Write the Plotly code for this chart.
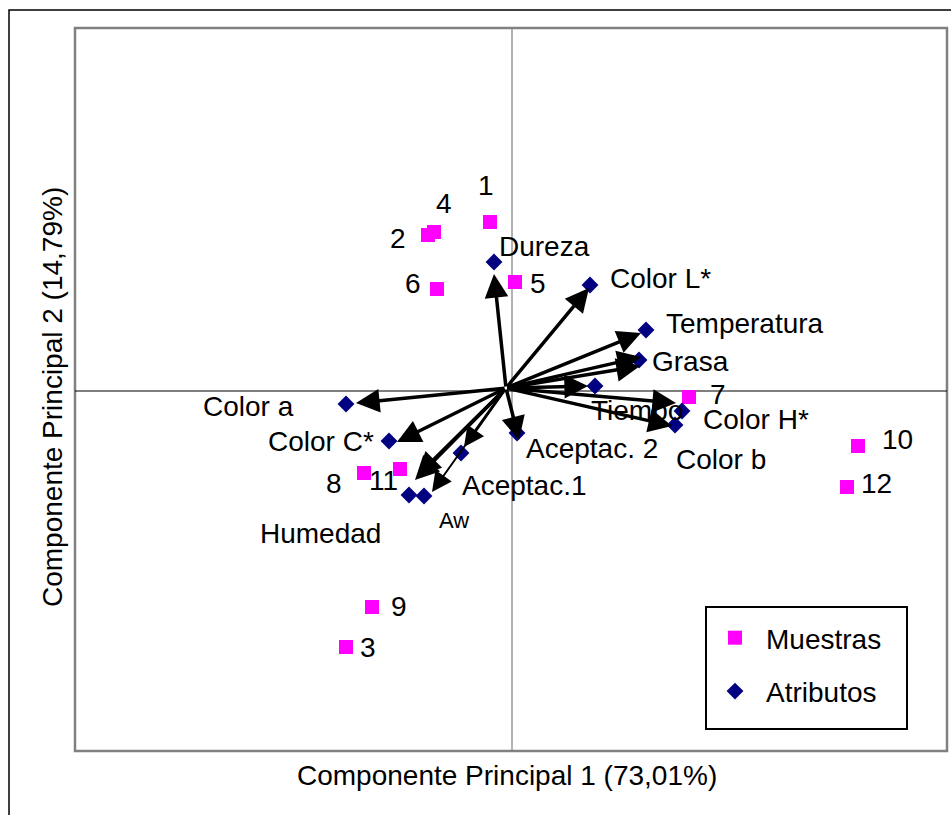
import plotly.graph_objects as go

# ---- Data (scores / loadings, arbitrary PCA units) ----
sample_labels = ["1", "2", "3", "4", "5", "6", "7", "8", "9", "10", "11", "12"]
sample_pc1 = [-0.22, -0.84, -1.66, -0.78, 0.03, -0.75, 1.77, -1.48, -1.40, 3.46, -1.12, 3.35]
sample_pc2 = [1.69, 1.56, -2.56, 1.59, 1.09, 1.02, -0.06, -0.82, -2.16, -0.55, -0.78, -0.96]
# label positions for sample numbers
sample_lab_x = [-0.26, -1.14, -1.44, -0.68, 0.26, -0.99, 2.06, -1.78, -1.13, 3.85, -1.29, 3.64]
sample_lab_y = [2.06, 1.53, -2.56, 1.88, 1.08, 1.08, -0.03, -0.92, -2.15, -0.48, -0.89, -0.92]

attr_labels = ["Dureza", "Color L*", "Temperatura", "Grasa", "Tiempo", "Color H*", "Color b",
               "Aceptac. 2", "Aceptac.1", "Aw", "Humedad", "Color C*", "Color a"]
attr_pc1 = [-0.18, 0.78, 1.34, 1.27, 0.83, 1.70, 1.63, 0.05, -0.51, -0.88, -1.03, -1.23, -1.66]
attr_pc2 = [1.29, 1.06, 0.61, 0.31, 0.05, -0.20, -0.34, -0.42, -0.62, -1.05, -1.04, -0.50, -0.13]
attr_lab_x = [0.32, 1.48, 2.33, 1.78, 1.25, 2.44, 2.09, 0.80, 0.12, -0.58, -1.92, -1.91, -2.64]
attr_lab_y = [1.45, 1.13, 0.68, 0.30, -0.19, -0.28, -0.68, -0.57, -0.94, -1.29, -1.42, -0.50, -0.15]
attr_lab_size = [28, 28, 28, 28, 28, 28, 28, 28, 28, 22, 28, 28, 28]

# loading arrows (tips)
arrow_x = [-0.18, 0.77, 1.29, 1.29, 1.28, 0.76, 1.64, 1.60, 0.07, -0.48, -0.80, -0.97, -0.95, -1.15, -1.56]
arrow_y = [1.17, 1.03, 0.58, 0.34, 0.25, 0.05, -0.12, -0.35, -0.49, -0.56, -1.01, -0.89, -0.85, -0.51, -0.12]
arrow_w = [3.5, 3.5, 3.5, 3.5, 3.5, 3.5, 3.5, 3.5, 3.5, 3, 2, 3.5, 3.5, 3.5, 3.5]
origin = (-0.06, 0.03)

FONT = "Liberation Sans, Arial, sans-serif"

PL, PT, PR, PB = 75, 28, 947, 751   # plot area in page pixels
W, H = 951, 815


def px2paper_x(px):
    return (px - PL) / (PR - PL)


def px2paper_y(py):
    return (PB - py) / (PB - PT)


fig = go.Figure()

fig.add_trace(go.Scatter(
    x=sample_pc1, y=sample_pc2, mode="markers", name="Muestras",
    marker=dict(symbol="square", size=14, color="#FF00FF"),
    legendgroup="a", hoverinfo="text", text=sample_labels))
fig.add_trace(go.Scatter(
    x=attr_pc1, y=attr_pc2, mode="markers", name="Atributos",
    marker=dict(symbol="diamond", size=13, color="#000080"),
    legendgroup="b", hoverinfo="text", text=attr_labels))

annotations = []
# labels first so that the arrows are drawn on top of them
for t, lx, ly in zip(sample_labels, sample_lab_x, sample_lab_y):
    annotations.append(dict(x=lx, y=ly, xref="x", yref="y", text=t, showarrow=False,
                            xanchor="center", yanchor="middle",
                            font=dict(family=FONT, size=28, color="black")))
for t, lx, ly, s in zip(attr_labels, attr_lab_x, attr_lab_y, attr_lab_size):
    annotations.append(dict(x=lx, y=ly, xref="x", yref="y", text=t, showarrow=False,
                            xanchor="center", yanchor="middle",
                            font=dict(family=FONT, size=s, color="black")))

for ax_, ay_, w in zip(arrow_x, arrow_y, arrow_w):
    annotations.append(dict(
        x=ax_, y=ay_, ax=origin[0], ay=origin[1], xref="x", yref="y",
        axref="x", ayref="y", text="", showarrow=True, arrowhead=2,
        arrowsize=1.35 if w > 2.5 else 2.0, arrowwidth=w, arrowcolor="black", standoff=0))

# axis titles
annotations.append(dict(x=px2paper_x(507), y=px2paper_y(775), xref="paper", yref="paper",
                        text="Componente Principal 1 (73,01%)", showarrow=False,
                        xanchor="center", yanchor="middle",
                        font=dict(family=FONT, size=28, color="black")))
annotations.append(dict(x=px2paper_x(52), y=px2paper_y(397), xref="paper", yref="paper",
                        text="Componente Principal 2 (14,79%)", showarrow=False, textangle=-90,
                        xanchor="center", yanchor="middle",
                        font=dict(family=FONT, size=28, color="black")))

shapes = [
    # outer chart border
    dict(type="rect", xref="paper", yref="paper", x0=px2paper_x(9), x1=px2paper_x(960),
         y0=px2paper_y(830), y1=px2paper_y(10),
         line=dict(color="black", width=1.5), layer="below"),
    # plot area border
    dict(type="rect", xref="paper", yref="paper", x0=0, x1=1, y0=0, y1=1,
         line=dict(color="#808080", width=2.5), layer="below"),
    # zero axes
    dict(type="line", xref="x", yref="paper", x0=0, x1=0, y0=0, y1=1,
         line=dict(color="#808080", width=1.2), layer="below"),
    dict(type="line", xref="paper", yref="y", x0=0, x1=1, y0=0, y1=0,
         line=dict(color="black", width=1.2), layer="below"),
    # legend box
    dict(type="rect", xref="paper", yref="paper", x0=px2paper_x(706), x1=px2paper_x(907),
         y0=px2paper_y(729), y1=px2paper_y(607),
         line=dict(color="black", width=2), fillcolor="white", layer="below"),
]

fig.update_layout(
    width=W, height=H,
    margin=dict(l=PL, r=W - PR, t=PT, b=H - PB),
    paper_bgcolor="white", plot_bgcolor="rgba(0,0,0,0)",
    xaxis=dict(range=[-4.37, 4.35], showgrid=False, zeroline=False, showticklabels=False,
               ticks="", showline=False, fixedrange=True),
    yaxis=dict(range=[-3.60, 3.63], showgrid=False, zeroline=False, showticklabels=False,
               ticks="", showline=False, fixedrange=True),
    showlegend=True,
    legend=dict(x=px2paper_x(704), y=px2paper_y(613), xanchor="left", yanchor="top",
                borderwidth=0, bgcolor="rgba(0,0,0,0)",
                font=dict(family=FONT, size=28, color="black"),
                traceorder="grouped", tracegroupgap=14, itemwidth=52),
    annotations=annotations, shapes=shapes,
)

fig.write_html(
    "out.html",
    config={"displayModeBar": False},
    post_script="document.body.style.margin='0';document.body.style.overflow='hidden';",
)
